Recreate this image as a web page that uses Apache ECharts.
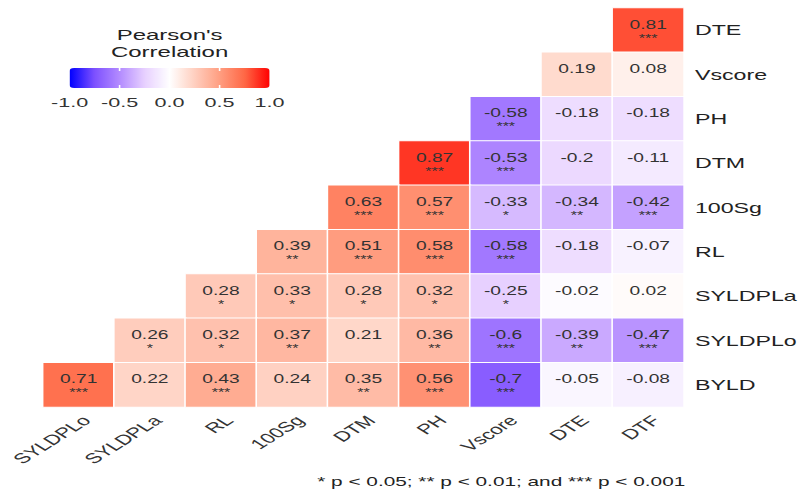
<!DOCTYPE html>
<html>
<head>
<meta charset="utf-8">
<script src="https://cdn.jsdelivr.net/npm/echarts@6/dist/echarts.min.js"></script>
<style>
html,body{margin:0;padding:0;background:#fff;overflow:hidden;}
#wrap{width:802px;height:494px;overflow:hidden;}
#chart{width:501.25px;height:494px;transform:scaleX(1.6);transform-origin:0 0;}
</style>
</head>
<body>
<div id="wrap"><div id="chart"></div></div>
<script>
// x categories (left to right)
const xCats = ['SYLDPLo','SYLDPLa','RL','100Sg','DTM','PH','Vscore','DTE','DTF'];
// y categories (top to bottom)
const yCats = ['DTE','Vscore','PH','DTM','100Sg','RL','SYLDPLa','SYLDPLo','BYLD'];
// correlation values per row (top to bottom), aligned with xCats; null = empty
const values = [
  [null,null,null,null,null,null,null,null,0.81],
  [null,null,null,null,null,null,null,0.19,0.08],
  [null,null,null,null,null,null,-0.58,-0.18,-0.18],
  [null,null,null,null,null,0.87,-0.53,-0.2,-0.11],
  [null,null,null,null,0.63,0.57,-0.33,-0.34,-0.42],
  [null,null,null,0.39,0.51,0.58,-0.58,-0.18,-0.07],
  [null,null,0.28,0.33,0.28,0.32,-0.25,-0.02,0.02],
  [null,0.26,0.32,0.37,0.21,0.36,-0.6,-0.39,-0.47],
  [0.71,0.22,0.43,0.24,0.35,0.56,-0.7,-0.05,-0.08]
];
// significance stars per row
const stars = [
  ['','','','','','','','','***'],
  ['','','','','','','','',''],
  ['','','','','','','***','',''],
  ['','','','','','***','***','',''],
  ['','','','','***','***','*','**','***'],
  ['','','','**','***','***','***','',''],
  ['','','*','*','*','*','*','',''],
  ['','*','*','**','','**','***','**','***'],
  ['***','','***','','**','***','***','','']
];
const legendTicks = [-1.0,-0.5,0.0,0.5,1.0];
const legendTitle = "Pearson's\nCorrelation";
const footnote = '* p < 0.05; ** p < 0.01; and *** p < 0.001';

const yAxisCats = yCats.slice().reverse();
const data = [];
values.forEach((row, r) => {
  row.forEach((v, c) => {
    if (v === null) return;
    data.push({value: [xCats[c], yCats[r], v], star: stars[r][c]});
  });
});

const chart = echarts.init(document.getElementById('chart'), null, {renderer:'svg'});
const FONT = 'Liberation Sans, Arial, sans-serif';

// legend bar geometry (in unscaled page units)
const lgLeft = 43.5, lgWidth = 125, lgTop = 68, lgH = 20;
const graphics = [
  {type:'text', x: lgLeft + lgWidth/2, y: 26, style:{text: legendTitle, font:'15px ' + FONT, fill:'#222', align:'center', lineHeight:17}},
  {type:'text', right: 72.5, top: 475, style:{text: footnote, font:'13px ' + FONT, fill:'#222'}}
];
legendTicks.forEach(t => {
  const x = lgLeft + (t + 1) / 2 * lgWidth;
  graphics.push({type:'text', x: x, y: 95, style:{text: t.toFixed(1), font:'13.5px ' + FONT, fill:'#333', align:'center'}});
  if (t > -1 && t < 1) {
    graphics.push({type:'line', shape:{x1:x, y1:lgTop, x2:x, y2:lgTop+3}, style:{stroke:'#fff', lineWidth:1}, z:100});
    graphics.push({type:'line', shape:{x1:x, y1:lgTop+lgH-3, x2:x, y2:lgTop+lgH}, style:{stroke:'#fff', lineWidth:1}, z:100});
  }
});

chart.setOption({
  backgroundColor:'#fff',
  animation:false,
  grid:{left:26.9, right:71.9, top:8, bottom:87},
  xAxis:{
    type:'category', data:xCats,
    axisLine:{show:false}, axisTick:{show:false}, splitLine:{show:false},
    axisLabel:{rotate:45, fontSize:14, color:'#333', fontFamily:FONT, margin:6, interval:0,
      align:'right', verticalAlign:'top'}
  },
  yAxis:{
    type:'category', data:yAxisCats, position:'right',
    axisLine:{show:false}, axisTick:{show:false}, splitLine:{show:false},
    axisLabel:{fontSize:14.5, color:'#222', fontFamily:FONT, margin:7, interval:0}
  },
  visualMap:{
    type:'continuous', min:-1, max:1, dimension:2,
    orient:'horizontal', left:lgLeft, top:lgTop, itemWidth:lgH, itemHeight:lgWidth,
    padding:0, calculable:false, text:null, showLabel:false,
    textStyle:{color:'transparent'},
    inRange:{color:['#0000FF','#7E51FF','#B38BFF','#E7D0FF','#FFFFFF','#FFCFBF','#FF9E81','#FF6846','#FF0000']}
  },
  graphic: graphics,
  series:[{
    type:'heatmap', data:data,
    itemStyle:{borderColor:'#fff', borderWidth:1},
    label:{
      show:true,
      formatter: p => '{v|' + p.value[2] + '}\n{s|' + (p.data.star || ' ') + '}',
      rich:{
        v:{fontSize:12, color:'#333', fontFamily:FONT, lineHeight:16},
        s:{fontSize:10, color:'#333', fontFamily:FONT, lineHeight:11}
      }
    },
    emphasis:{disabled:true}
  }]
});
</script>
</body>
</html>
